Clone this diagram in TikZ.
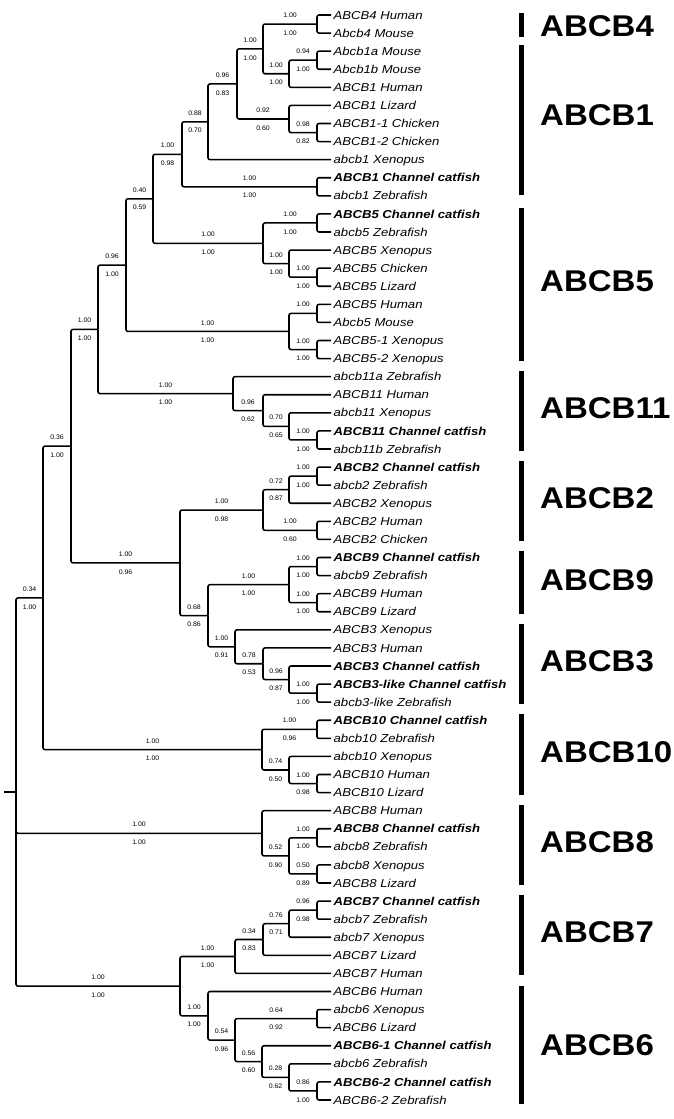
\documentclass[tikz,border=0pt]{standalone}
\usepackage{fontspec}
\setmainfont{Liberation Sans}
\newfontfamily\leaffont[FakeStretch=1.14]{Liberation Sans}
\newfontfamily\supfont[FakeStretch=1.05]{Liberation Sans}
\newfontfamily\cladefont[FakeStretch=1.1]{Liberation Sans}
\usetikzlibrary{calc}
\begin{document}
\begin{tikzpicture}[x=1pt,y=-1pt,
  br/.style={line width=1.55pt, rounded corners=2pt},
  leafn/.style={font=\leaffont\fontsize{11.5}{12}\selectfont\itshape, anchor=base west, inner sep=0pt, yshift=-4.1pt},
  leafb/.style={leafn, font=\leaffont\fontsize{11.5}{12}\selectfont\bfseries\itshape},
  supbase/.style={font=\supfont\fontsize{6.6}{7}\selectfont, anchor=base, inner sep=0pt},
  supa/.style={supbase, yshift=6.45pt},
  supb/.style={supbase, yshift=-11.15pt},
  cladel/.style={font=\cladefont\fontsize{30}{30}\selectfont\bfseries, anchor=base west, inner sep=0pt, yshift=-10.7pt},
  cbar/.style={line width=5pt}
]
\useasboundingbox (0,0) rectangle (674,1119);

% leaves
\foreach \i/\st/\lab in {
 0/n/ABCB4 Human, 1/n/Abcb4 Mouse, 2/n/Abcb1a Mouse, 3/n/Abcb1b Mouse, 4/n/ABCB1 Human,
 5/n/ABCB1 Lizard, 6/n/ABCB1-1 Chicken, 7/n/ABCB1-2 Chicken, 8/n/abcb1 Xenopus,
 9/b/ABCB1 Channel catfish, 10/n/abcb1 Zebrafish, 11/b/ABCB5 Channel catfish,
 12/n/abcb5 Zebrafish, 13/n/ABCB5 Xenopus, 14/n/ABCB5 Chicken, 15/n/ABCB5 Lizard,
 16/n/ABCB5 Human, 17/n/Abcb5 Mouse, 18/n/ABCB5-1 Xenopus, 19/n/ABCB5-2 Xenopus,
 20/n/abcb11a Zebrafish, 21/n/ABCB11 Human, 22/n/abcb11 Xenopus, 23/b/ABCB11 Channel catfish,
 24/n/abcb11b Zebrafish, 25/b/ABCB2 Channel catfish, 26/n/abcb2 Zebrafish, 27/n/ABCB2 Xenopus,
 28/n/ABCB2 Human, 29/n/ABCB2 Chicken, 30/b/ABCB9 Channel catfish, 31/n/abcb9 Zebrafish,
 32/n/ABCB9 Human, 33/n/ABCB9 Lizard, 34/n/ABCB3 Xenopus, 35/n/ABCB3 Human,
 36/b/ABCB3 Channel catfish, 37/b/ABCB3-like Channel catfish, 38/n/abcb3-like Zebrafish,
 39/b/ABCB10 Channel catfish, 40/n/abcb10 Zebrafish, 41/n/abcb10 Xenopus, 42/n/ABCB10 Human,
 43/n/ABCB10 Lizard, 44/n/ABCB8 Human, 45/b/ABCB8 Channel catfish, 46/n/abcb8 Zebrafish,
 47/n/abcb8 Xenopus, 48/n/ABCB8 Lizard, 49/b/ABCB7 Channel catfish, 50/n/abcb7 Zebrafish,
 51/n/abcb7 Xenopus, 52/n/ABCB7 Lizard, 53/n/ABCB7 Human, 54/n/ABCB6 Human,
 55/n/abcb6 Xenopus, 56/n/ABCB6 Lizard, 57/b/ABCB6-1 Channel catfish, 58/n/abcb6 Zebrafish,
 59/b/ABCB6-2 Channel catfish, 60/n/ABCB6-2 Zebrafish}
{
  \coordinate (L\i) at (331,{15+\i*18.08333});
  \node[leaf\st] (t\i) at ([xshift=2.5pt]L\i) {\lab};
}

% internal nodes
\coordinate (a1) at (317,24.04);
\coordinate (a2) at (317,60.21);
\coordinate (a3) at (289,73.77);
\coordinate (a4) at (263,48.90);
\coordinate (a5) at (317,132.54);
\coordinate (a6) at (289,118.98);
\coordinate (a7) at (237,83.94);
\coordinate (a8) at (208,121.80);
\coordinate (a9) at (317,186.79);
\coordinate (a10) at (182,154.30);
\coordinate (b1) at (317,222.96);
\coordinate (b2) at (317,277.21);
\coordinate (b3) at (289,263.65);
\coordinate (b4) at (263,243.30);
\coordinate (c153) at (153,198.80);
\coordinate (b5) at (317,313.38);
\coordinate (b6) at (317,349.54);
\coordinate (b7) at (289,331.46);
\coordinate (c126) at (126,265.13);
\coordinate (d1) at (317,439.96);
\coordinate (d2) at (289,426.40);
\coordinate (d3) at (263,410.57);
\coordinate (d4) at (233,393.62);
\coordinate (c98) at (98,329.38);
\coordinate (e1) at (317,476.13);
\coordinate (e2) at (289,489.69);
\coordinate (e3) at (317,530.38);
\coordinate (e4) at (263,510.03);
\coordinate (f1) at (317,566.54);
\coordinate (f2) at (317,602.71);
\coordinate (f3) at (289,584.63);
\coordinate (g1) at (317,693.13);
\coordinate (g2) at (289,679.56);
\coordinate (g3) at (263,663.74);
\coordinate (g4) at (235,646.79);
\coordinate (h1) at (208,615.71);
\coordinate (c180) at (180,562.87);
\coordinate (c71) at (71,446.13);
\coordinate (i1) at (317,729.29);
\coordinate (i2) at (317,783.54);
\coordinate (i3) at (289,769.98);
\coordinate (i4) at (262,749.64);
\coordinate (c43) at (43,597.88);
\coordinate (j1) at (317,837.79);
\coordinate (j2) at (317,873.96);
\coordinate (j3) at (289,855.88);
\coordinate (j4) at (262,833.27);
\coordinate (k1) at (317,910.13);
\coordinate (k2) at (289,923.69);
\coordinate (k3) at (263,939.51);
\coordinate (k4) at (235,956.47);
\coordinate (m1) at (317,1018.63);
\coordinate (m2) at (317,1090.96);
\coordinate (m3) at (289,1077.40);
\coordinate (m4) at (262,1061.57);
\coordinate (m5) at (235,1040.10);
\coordinate (m6) at (208,1015.80);
\coordinate (c180b) at (180,986.14);
\coordinate (root) at (16,792.01);
\coordinate (rs) at (4,792.01);

% branches to leaves
\foreach \pa/\c in {a1/0,a1/1,a2/2,a2/3,a3/4,a6/5,a5/6,a5/7,a8/8,a9/9,a9/10,
  b1/11,b1/12,b3/13,b2/14,b2/15,b5/16,b5/17,b6/18,b6/19,d4/20,d3/21,d2/22,d1/23,d1/24,
  e1/25,e1/26,e2/27,e3/28,e3/29,f1/30,f1/31,f2/32,f2/33,g4/34,g3/35,g2/36,g1/37,g1/38,
  i1/39,i1/40,i3/41,i2/42,i2/43,j4/44,j1/45,j1/46,j2/47,j2/48,k1/49,k1/50,k2/51,k3/52,k4/53,
  m6/54,m1/55,m1/56,m4/57,m3/58,m2/59,m2/60}
  \draw[br] (\pa) |- (L\c);

% internal branches with support values
\foreach \pa/\ch/\u/\d in {
  a4/a1/1.00/1.00, a3/a2/0.94/1.00, a4/a3/1.00/1.00, a7/a4/1.00/1.00,
  a6/a5/0.98/0.82, a7/a6/0.92/0.60, a8/a7/0.96/0.83, a10/a8/0.88/0.70,
  a10/a9/1.00/1.00, c153/a10/1.00/0.98, b4/b1/1.00/1.00, b3/b2/1.00/1.00,
  b4/b3/1.00/1.00, c153/b4/1.00/1.00, c126/c153/0.40/0.59, b7/b6/1.00/1.00,
  c126/b7/1.00/1.00, c98/c126/0.96/1.00, d2/d1/1.00/1.00, d3/d2/0.70/0.65,
  d4/d3/0.96/0.62, c98/d4/1.00/1.00, c71/c98/1.00/1.00, e2/e1/1.00/1.00,
  e4/e2/0.72/0.87, e4/e3/1.00/0.60, c180/e4/1.00/0.98, f3/f1/1.00/1.00,
  f3/f2/1.00/1.00, h1/f3/1.00/1.00, g2/g1/1.00/1.00, g3/g2/0.96/0.87,
  g4/g3/0.78/0.53, h1/g4/1.00/0.91, c180/h1/0.68/0.86, c71/c180/1.00/0.96,
  c43/c71/0.36/1.00, i4/i1/1.00/0.96, i3/i2/1.00/0.98, i4/i3/0.74/0.50,
  c43/i4/1.00/1.00, root/c43/0.34/1.00, j3/j1/1.00/1.00, j3/j2/0.50/0.89,
  j4/j3/0.52/0.90, root/j4/1.00/1.00, k2/k1/0.96/0.98, k3/k2/0.76/0.71,
  k4/k3/0.34/0.83, c180b/k4/1.00/1.00, m5/m1/0.64/0.92, m3/m2/0.86/1.00,
  m4/m3/0.28/0.62, m5/m4/0.56/0.60, m6/m5/0.54/0.96, c180b/m6/1.00/1.00,
  root/c180b/1.00/1.00}
{
  \draw[br] (\pa) |- (\ch);
  \node[supa] (u\ch) at ($(\pa |- \ch)!0.5!(\ch)$) {\u};
  \node[supb] (d\ch) at ($(\pa |- \ch)!0.5!(\ch)$) {\d};
}
% branch with a single value
\draw[br] (b7) |- (b5);
\node[supa] (ub5) at ($(b7 |- b5)!0.5!(b5)$) {1.00};

% root stub
\draw[br] (rs) -- (root);

% clade bars and names
\foreach \n/\ya/\yb/\yl in {ABCB4/13/37/25.5, ABCB1/45/195/115, ABCB5/208/361/281,
  ABCB11/371/451/408, ABCB2/461/541/498, ABCB9/551/614/580, ABCB3/624/704/661,
  ABCB10/714/795/752, ABCB8/805/885/842, ABCB7/895/975/932, ABCB6/986/1104/1045}
{
  \coordinate (s\n) at (521,\ya);
  \coordinate (e\n) at (521,\yb);
  \draw[cbar] (s\n) -- (e\n);
  \node[cladel] (n\n) at (540,\yl) {\n};
}
\end{tikzpicture}
\end{document}
